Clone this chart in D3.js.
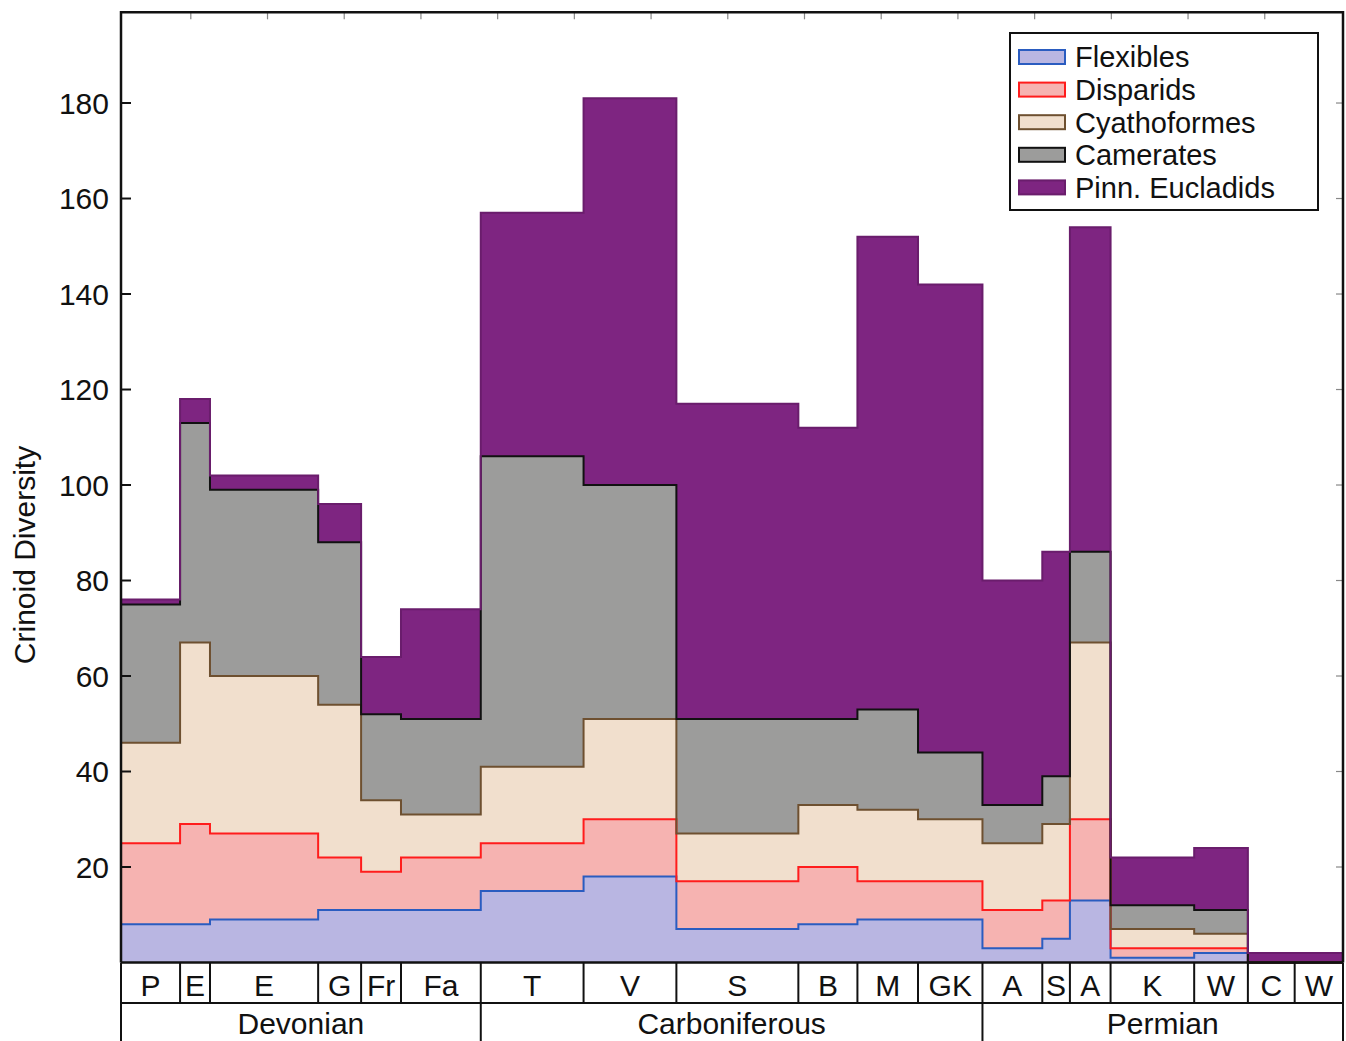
<!DOCTYPE html>
<html>
<head>
<meta charset="utf-8">
<script src="https://cdn.jsdelivr.net/npm/d3@7"></script>
<style>
  html, body { margin: 0; padding: 0; background: #fff; }
  svg { display: block; font-family: "Liberation Sans", Arial, Helvetica, sans-serif; }
</style>
</head>
<body>
<svg id="chart" width="1346" height="1041"></svg>
<script>
// Stage names (Devonian to Permian) and their boundaries on the time axis
const stages = ["P", "E", "E", "G", "Fr", "Fa", "T", "V", "S", "B", "M", "GK", "A", "S", "A", "K", "W", "C", "W"];
const stageEdges = [0.9, 8.6, 12.5, 26.6, 32.2, 37.4, 47.8, 61.2, 73.3, 89.2, 96.9, 104.8, 113.2, 121.0, 124.6, 129.9, 140.8, 147.8, 153.9, 160.2];
const periods = ["Devonian", "Carboniferous", "Permian"];
const periodEdges = [0.9, 47.8, 113.2, 160.2];

// Genus counts per stage for each crinoid group
const flexibles     = [8, 8, 9, 11, 11, 11, 15, 18, 7, 8, 9, 9, 3, 5, 13, 1, 2, 0, 0];
const disparids     = [17, 21, 18, 11, 8, 11, 10, 12, 10, 12, 8, 8, 8, 8, 17, 2, 1, 0, 0];
const cyathoformes  = [21, 38, 33, 32, 15, 9, 16, 21, 10, 13, 15, 13, 14, 16, 37, 4, 3, 0, 0];
const camerates     = [29, 46, 39, 34, 18, 20, 65, 49, 24, 18, 21, 14, 8, 10, 19, 5, 5, 0, 0];
const pinnEucladids = [1, 5, 3, 8, 12, 23, 51, 81, 66, 61, 99, 98, 47, 47, 68, 10, 13, 2, 2];

const groupNames = ["Flexibles", "Disparids", "Cyathoformes", "Camerates", "Pinn. Eucladids"];
const groupValues = [flexibles, disparids, cyathoformes, camerates, pinnEucladids];
const fills   = ["#b9b6e2", "#f6b3b1", "#f1dfcd", "#9c9c9b", "#7e2581"];
const strokes = ["#2a5cc0", "#ff1c1c", "#6e5030", "#111111", "#6a1d6c"];

const yTicks = [20, 40, 60, 80, 100, 120, 140, 160, 180];
const topTicks = [10, 20, 30, 40, 50, 60, 70, 80, 90, 100, 110, 120, 130, 140, 150];

const svg = d3.select("#chart");

const x = d3.scaleLinear().domain([0.9, 160.2]).range([121, 1343]);
const y = d3.scaleLinear().domain([0, 199]).range([962.5, 12.3]);

// One row per stage start, plus a closing row at the final boundary for the steps
const keys = groupNames;
const rows = stages.map((s, i) => {
  const r = { t: stageEdges[i] };
  keys.forEach((k, j) => { r[k] = groupValues[j][i]; });
  return r;
});
rows.push(Object.assign({}, rows[rows.length - 1], { t: stageEdges[stageEdges.length - 1] }));

const stacked = d3.stack().keys(keys)(rows);

const area = d3.area()
  .x(d => x(d.data.t))
  .y0(d => y(d[0]))
  .y1(d => y(d[1]))
  .curve(d3.curveStepAfter);

const topLine = d3.line()
  .x(d => x(d.data.t))
  .y(d => y(d[1]))
  .curve(d3.curveStepAfter);

svg.append("g").selectAll("path")
  .data(stacked)
  .join("path")
  .attr("d", area)
  .attr("fill", (d, i) => fills[i]);

svg.append("g").selectAll("path")
  .data(stacked)
  .join("path")
  .attr("d", topLine)
  .attr("fill", "none")
  .attr("stroke", (d, i) => strokes[i])
  .attr("stroke-width", 2);

// Frame and ticks
const plotLeft = x.range()[0], plotRight = x.range()[1];
const plotTop = y(199), plotBottom = y(0);

const ticksG = svg.append("g");
ticksG.selectAll("line.yl")
  .data(yTicks)
  .join("line")
  .attr("x1", plotLeft).attr("x2", plotLeft + 10)
  .attr("y1", d => y(d)).attr("y2", d => y(d))
  .attr("stroke", "#111").attr("stroke-width", 2);
ticksG.selectAll("line.yr")
  .data(yTicks)
  .join("line")
  .attr("x1", plotRight - 7).attr("x2", plotRight)
  .attr("y1", d => y(d)).attr("y2", d => y(d))
  .attr("stroke", "#888").attr("stroke-width", 1.2);
ticksG.selectAll("line.xt")
  .data(topTicks)
  .join("line")
  .attr("x1", d => x(d)).attr("x2", d => x(d))
  .attr("y1", plotTop).attr("y2", plotTop + 7)
  .attr("stroke", "#888").attr("stroke-width", 1.2);

svg.append("g").selectAll("text")
  .data(yTicks)
  .join("text")
  .attr("x", 109)
  .attr("y", d => y(d))
  .attr("dy", "0.36em")
  .attr("text-anchor", "end")
  .attr("font-size", 30)
  .attr("fill", "#111")
  .text(d => d);

svg.append("path")
  .attr("d", `M${plotLeft},${plotBottom}V${plotTop}H${plotRight}V${plotBottom}`)
  .attr("fill", "none")
  .attr("stroke", "#111")
  .attr("stroke-width", 2.5);

svg.append("text")
  .attr("transform", "translate(35,555) rotate(-90)")
  .attr("text-anchor", "middle")
  .attr("font-size", 30)
  .attr("fill", "#111")
  .text("Crinoid Diversity");

// Stage and period boxes under the plot
const stageTop = plotBottom, stageBottom = 1003, periodBottom = 1060;
const boxes = svg.append("g").attr("stroke", "#111").attr("fill", "none");
boxes.append("line").attr("x1", plotLeft).attr("x2", plotRight).attr("y1", stageTop).attr("y2", stageTop).attr("stroke-width", 2.5);
boxes.append("line").attr("x1", plotLeft).attr("x2", plotRight).attr("y1", stageBottom).attr("y2", stageBottom).attr("stroke-width", 2);
boxes.selectAll("line.s")
  .data(stageEdges)
  .join("line")
  .attr("x1", d => x(d)).attr("x2", d => x(d))
  .attr("y1", stageTop).attr("y2", stageBottom)
  .attr("stroke-width", 2);
boxes.selectAll("line.p")
  .data(periodEdges)
  .join("line")
  .attr("x1", d => x(d)).attr("x2", d => x(d))
  .attr("y1", stageBottom).attr("y2", periodBottom)
  .attr("stroke-width", 2);

svg.append("g").selectAll("text")
  .data(stages)
  .join("text")
  .attr("x", (d, i) => (x(stageEdges[i]) + x(stageEdges[i + 1])) / 2)
  .attr("y", 985)
  .attr("dy", "0.36em")
  .attr("text-anchor", "middle")
  .attr("font-size", 30)
  .attr("fill", "#111")
  .text(d => d);

svg.append("g").selectAll("text")
  .data(periods)
  .join("text")
  .attr("x", (d, i) => (x(periodEdges[i]) + x(periodEdges[i + 1])) / 2)
  .attr("y", 1023)
  .attr("dy", "0.36em")
  .attr("text-anchor", "middle")
  .attr("font-size", 30)
  .attr("fill", "#111")
  .text(d => d);

// Legend
const legend = svg.append("g");
legend.append("rect")
  .attr("x", 1010).attr("y", 33).attr("width", 308).attr("height", 177)
  .attr("fill", "#fff").attr("stroke", "#111").attr("stroke-width", 2);
const items = legend.selectAll("g.item")
  .data(groupNames)
  .join("g")
  .attr("transform", (d, i) => `translate(0,${57 + i * 32.6})`);
items.append("rect")
  .attr("x", 1019).attr("y", -7).attr("width", 46).attr("height", 14)
  .attr("fill", (d, i) => fills[i])
  .attr("stroke", (d, i) => strokes[i])
  .attr("stroke-width", 2);
items.append("text")
  .attr("x", 1075).attr("y", 0).attr("dy", "0.36em")
  .attr("font-size", 29)
  .attr("fill", "#111")
  .text(d => d);
</script>
</body>
</html>
